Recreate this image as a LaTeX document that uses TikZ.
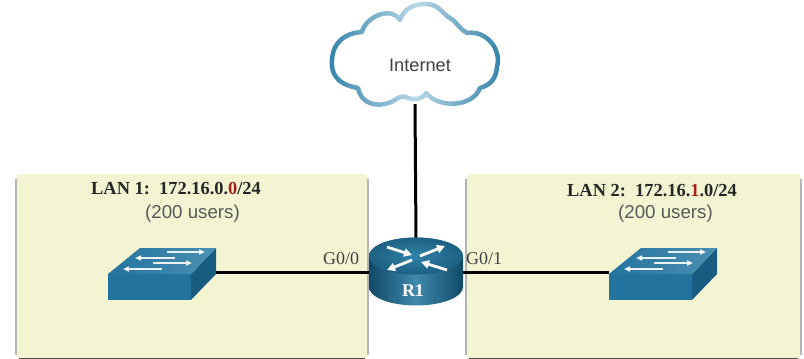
\documentclass[tikz,border=0pt]{standalone}
\usepackage{fontspec}
\setmainfont{Liberation Serif}
\newfontfamily\labelsans{Liberation Sans}
\usetikzlibrary{arrows.meta,fadings}
\definecolor{panelfill}{HTML}{F3F4D2}
\definecolor{panelline}{HTML}{B4B4B4}
\definecolor{swfront}{HTML}{24739F}
\definecolor{swside}{HTML}{195C82}
\definecolor{swtop}{HTML}{4A90B2}
\definecolor{rtdark}{HTML}{114A69}
\definecolor{rtmid}{HTML}{3F89AC}
\definecolor{rttop}{HTML}{2F82A8}
\definecolor{cloudblue}{HTML}{2F7FA8}
\definecolor{cloudlight}{HTML}{BAD8E5}
\definecolor{addrred}{HTML}{A5201C}
\tikzset{
  panel/.style={rectangle,rounded corners=4pt,fill=panelfill,inner sep=0pt},
  panelside/.style={draw=panelline,line width=1.6pt},
  panelbase/.style={draw=black!70,line width=1.4pt},
  link/.style={draw=black,line width=3pt},
  serifbold/.style={font=\fontsize{18.4}{20}\selectfont\bfseries,text=black!85,inner sep=0pt,anchor=west},
  usersnote/.style={font=\labelsans\fontsize{18.7}{20}\selectfont,text=black!65,inner sep=0pt,anchor=west},
  portname/.style={font=\fontsize{18}{20}\selectfont,text=black!75,inner sep=0pt,anchor=west},
  blank/.style={rectangle,inner sep=0pt},
  flow/.style={white,opacity=0.9,line width=1.6pt,-{Triangle[length=6pt,width=5pt]}},
  rtflow/.style={white,line width=2.8pt,-{Triangle[length=8pt,width=8pt]}}
}
\newcommand{\cloudoutline}{
  (358,88) .. controls (335,84) and (331,72) .. (332,60)
  .. controls (333,42) and (345,33) .. (362,32)
  .. controls (365,18) and (390,5) .. (400,20)
  .. controls (404,8) and (415,4) .. (425,4)
  .. controls (440,4) and (442,14) .. (450,18)
  .. controls (457,22) and (460,30) .. (467,33)
  .. controls (485,30) and (502,48) .. (497,67)
  .. controls (496,75) and (494,84) .. (480,88)
  .. controls (472,108) and (438,108) .. (426,93)
  .. controls (422,100) and (414,100) .. (408,98)
  .. controls (405,96) and (402,96) .. (398,98)
  .. controls (385,108) and (362,108) .. (358,88) -- cycle}
%switch body, #1 is the node name and #2 the left end of the front face
\newcommand{\lanswitch}[2]{
  \begin{scope}[xshift=#2pt]
    \fill[swfront] (0,274) -- (83,274) -- (83,300) -- (0,300) -- cycle;
    \fill[swside] (83,274) -- (108,248) -- (108,274) -- (83,300) -- cycle;
    \shade[left color=swfront,right color=swtop] (0,274) -- (32,248) -- (108,248) -- (83,274) -- cycle;
    \node (#1) at (54,272) [blank,minimum width=108pt,minimum height=52pt]{};
    \foreach \xa/\xb/\ya in {59/97/252,67/27/258,45/84/263,54/15/269}
      \draw[flow] (\xa,\ya) -- (\xb,\ya);
  \end{scope}
}
\begin{tikzfadingfrompicture}[name=cloudstroke,x=1pt,y=-1pt]
  \useasboundingbox (315,-6) rectangle (515,114);
  \draw[transparent!0,line width=4.5pt,line join=round] \cloudoutline;
\end{tikzfadingfrompicture}
\begin{document}
\begin{tikzpicture}[x=1pt,y=-1pt]
  \useasboundingbox (0,0) rectangle (804,359);

  %the two LAN panels
  \node (lan1) at (192,266) [panel,minimum width=352pt,minimum height=184pt]{};
  \node (lan2) at (633.5,266) [panel,minimum width=335pt,minimum height=184pt]{};
  \draw[panelside] ([yshift=-5pt]lan1.north west) -- ([yshift=3pt]lan1.south west);
  \draw[panelside] ([yshift=-5pt]lan1.north east) -- ([yshift=3pt]lan1.south east);
  \draw[panelside] ([yshift=-5pt]lan2.north west) -- ([yshift=3pt]lan2.south west);
  \draw[panelside] ([yshift=-5pt]lan2.north east) -- ([yshift=3pt]lan2.south east);
  \draw[panelbase] ([xshift=3pt]lan1.south west) -- ([xshift=-3pt]lan1.south east);
  \draw[panelbase] ([xshift=3pt]lan2.south west) -- ([xshift=-3pt]lan2.south east);

  %place holders for the cloud and the router, the links run between them
  \node (cloud) at (415,54) [blank,minimum width=170pt,minimum height=100pt]{};
  \node (R1) at (416,272) [blank,minimum width=94pt,minimum height=67pt]{};
  \draw[link] (cloud.south) -- (R1.north);

  %cloud
  \fill[white] \cloudoutline;
  \shade[left color=cloudblue,right color=cloudblue,middle color=cloudlight,
    path fading=cloudstroke,fit fading=false,fading transform={shift={(415,54)}}]
    (325,-4) rectangle (505,112);
  \node (inet) at (420,65) [font=\labelsans\fontsize{18.2}{20}\selectfont,text=black!75,inner sep=0pt]{Internet};

  %switches
  \lanswitch{sw1}{108}
  \lanswitch{sw2}{609}
  \draw[link] (sw1.east) -- (R1.west);
  \draw[link] (sw2.west) -- (R1.east);

  %router
  \shade[left color=rtdark,right color=rtdark,middle color=rtmid]
    (369,256) -- (369,287) arc[start angle=180,end angle=360,x radius=47pt,y radius=18.5pt]
    -- (463,256) arc[start angle=0,end angle=180,x radius=47pt,y radius=18.5pt] -- cycle;
  \shade[inner color=rttop,outer color=rtdark!60!rttop] (416,256) ellipse [x radius=47pt,y radius=18.5pt];
  \draw[rtflow] (387,247) -- (412,255);
  \draw[rtflow] (420,256) -- (445,246);
  \draw[rtflow] (412,260) -- (387,270);
  \draw[rtflow] (447,270) -- (421,262);
  \node (R1name) at (413,291) [font=\fontsize{18}{20}\selectfont\bfseries,text=white,inner sep=0pt]{R1};

  %labels
  \node (lan1name) at (91,189) [serifbold]{LAN 1:\ \ 172.16.0.\textcolor{addrred}{0}/24};
  \node (lan1users) at (145,214) [usersnote]{(200 users)};
  \node (lan2name) at (567,191) [serifbold]{LAN 2:\ \ 172.16.\textcolor{addrred}{1}.0/24};
  \node (lan2users) at (618,214) [usersnote]{(200 users)};
  \node (port0) at (323,259) [portname]{G0/0};
  \node (port1) at (466,259) [portname]{G0/1};
\end{tikzpicture}
\end{document}
